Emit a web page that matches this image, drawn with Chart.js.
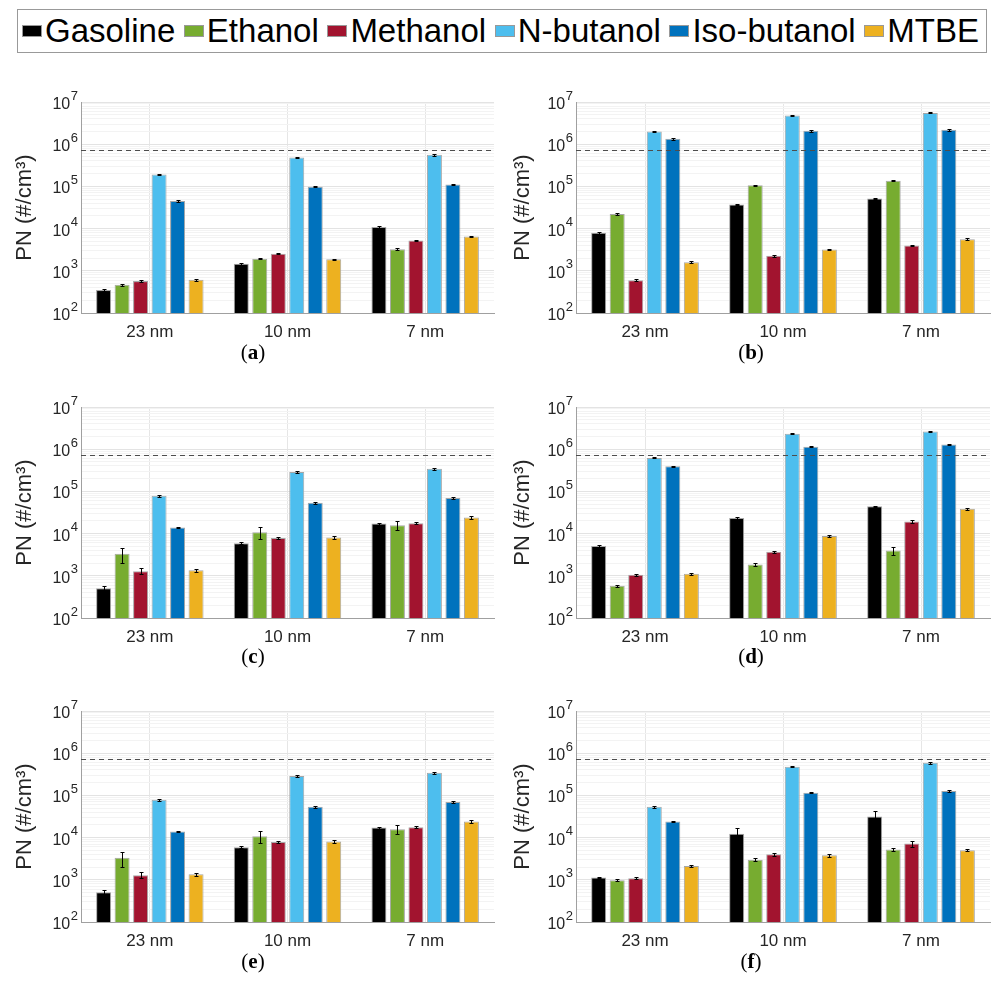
<!DOCTYPE html>
<html>
<head>
<meta charset="utf-8">
<script src="https://cdn.jsdelivr.net/npm/chart.js@4.4.0/dist/chart.umd.min.js"></script>
<style>
  body { margin: 0; width: 998px; height: 992px; background: #fff; position: relative; overflow: hidden;
         font-family: "Liberation Sans", Arial, sans-serif; }
  #legend { position: absolute; left: 17px; top: 9px; width: 970px; height: 44px; border: 1px solid #999;
            box-sizing: border-box; display: flex; justify-content: space-between; align-items: center;
            padding: 0 7px 0 4px; font-size: 33px; color: #000; }
  .item { display: flex; align-items: center; }
  .swatch { width: 20px; height: 12px; border: 1px solid #999; box-sizing: border-box; margin-right: 3px; }
  canvas { position: absolute; }
  .sublabel { position: absolute; width: 200px; text-align: center; font-family: "Liberation Serif", serif;
              font-size: 21px; color: #000; line-height: 20px; }
</style>
</head>
<body>
<div id="legend"></div>

<script>
const fuels = ['Gasoline', 'Ethanol', 'Methanol', 'N-butanol', 'Iso-butanol', 'MTBE'];
const sizes = ['23 nm', '10 nm', '7 nm'];
const fuelColors = ['#000000', '#77AC30', '#A2142F', '#4DBEEE', '#0072BD', '#EDB120'];
const pnLimit = 7.3e5;

// rows follow fuels, columns follow sizes
const valuesA = [
    [350, 1460, 10900],
    [470, 1920, 3250],
    [570, 2530, 5200],
    [191000, 483000, 559000],
    [45000, 98000, 111000],
    [610, 1890, 6500]
];
const errorsA = [
    [20, 60, 400],
    [25, 60, 150],
    [20, 80, 200],
    [5000, 15000, 20000],
    [1500, 3000, 4000],
    [25, 60, 250]
];

const valuesB = [
    [8000, 37000, 52000],
    [22200, 106000, 136000],
    [600, 2270, 3980],
    [2000000, 4770000, 5520000],
    [1340000, 2070000, 2190000],
    [1600, 3200, 5620]
];
const errorsB = [
    [400, 1500, 2000],
    [1000, 4000, 5000],
    [30, 100, 150],
    [50000, 100000, 150000],
    [50000, 80000, 80000],
    [80, 150, 250]
];

const valuesC = [
    [510, 5900, 17300],
    [3330, 10800, 15800],
    [1290, 7900, 17600],
    [79000, 288000, 345000],
    [13900, 53500, 70000],
    [1360, 8040, 24000]
];
const errorsC = [
    [60, 350, 1000],
    [1300, 3500, 3700],
    [200, 500, 1000],
    [4000, 15000, 15000],
    [500, 2500, 3000],
    [120, 500, 1500]
];

const valuesD = [
    [5090, 23500, 44300],
    [580, 1860, 3980],
    [1056, 3720, 19300],
    [622000, 2310000, 2620000],
    [395000, 1140000, 1290000],
    [1115, 8800, 38800]
];
const errorsD = [
    [250, 1000, 2000],
    [40, 150, 800],
    [50, 200, 1500],
    [15000, 50000, 80000],
    [10000, 30000, 40000],
    [60, 400, 2500]
];

const valuesE = [
    [510, 5900, 17300],
    [3330, 10800, 15800],
    [1290, 7900, 17600],
    [79000, 288000, 345000],
    [13900, 53500, 70000],
    [1360, 8040, 24000]
];
const errorsE = [
    [60, 350, 1000],
    [1300, 3500, 3700],
    [200, 500, 1000],
    [4000, 15000, 15000],
    [500, 2500, 3000],
    [120, 500, 1500]
];

const valuesF = [
    [1135, 12400, 31500],
    [982, 2980, 5190],
    [1095, 4030, 7200],
    [53800, 479000, 596000],
    [24100, 116000, 127000],
    [2110, 3810, 5010]
];
const errorsF = [
    [60, 4500, 12000],
    [50, 250, 400],
    [50, 400, 1200],
    [3000, 20000, 30000],
    [1000, 4000, 5000],
    [100, 250, 300]
];

// legend
const legend = document.getElementById('legend');
fuels.forEach((name, i) => {
    const item = document.createElement('div');
    item.className = 'item';
    item.innerHTML = `<span class="swatch" style="background:${fuelColors[i]}"></span><span>${name}</span>`;
    legend.appendChild(item);
});

const fontFamily = '"Liberation Sans", "DejaVu Sans", sans-serif';
Chart.defaults.font.family = fontFamily;
Chart.defaults.color = '#262626';

function isDecade(v) {
    const e = Math.log10(v);
    return Math.abs(e - Math.round(e)) < 1e-9;
}

// 10^n labels with a real raised exponent
const decadeLabels = {
    id: 'decadeLabels',
    afterDraw(chart) {
        const ctx = chart.ctx;
        const s = chart.scales.y;
        ctx.save();
        ctx.fillStyle = '#262626';
        ctx.textBaseline = 'middle';
        ctx.textAlign = 'right';
        s.ticks.forEach(t => {
            if (!isDecade(t.value)) return;
            const y = s.getPixelForValue(t.value);
            const exp = String(Math.round(Math.log10(t.value)));
            const xr = s.right - 3;
            ctx.font = '13px ' + fontFamily;
            const ew = ctx.measureText(exp).width;
            ctx.fillText(exp, xr, y - 6);
            ctx.font = '16px ' + fontFamily;
            ctx.fillText('10', xr - ew - 0.5, y + 2.5);
        });
        ctx.restore();
    }
};

const errorBars = {
    id: 'errorBars',
    afterDatasetsDraw(chart) {
        const ctx = chart.ctx;
        const yScale = chart.scales.y;
        ctx.save();
        ctx.strokeStyle = '#000';
        ctx.lineWidth = 1;
        chart.data.datasets.forEach((ds, i) => {
            chart.getDatasetMeta(i).data.forEach((bar, j) => {
                const v = ds.data[j];
                const e = ds.errors[j];
                const top = Math.round(yScale.getPixelForValue(v + e)) + 0.5;
                const bot = Math.round(yScale.getPixelForValue(Math.max(v - e, 1))) + 0.5;
                const x = Math.round(bar.x) + 0.5;
                ctx.beginPath();
                ctx.moveTo(x, top); ctx.lineTo(x, bot);
                ctx.moveTo(x - 2, top); ctx.lineTo(x + 2, top);
                ctx.moveTo(x - 2, bot); ctx.lineTo(x + 2, bot);
                ctx.stroke();
            });
        });
        ctx.restore();
    }
};

const limitLine = {
    id: 'limitLine',
    afterDatasetsDraw(chart) {
        const {ctx, chartArea} = chart;
        const y = Math.round(chart.scales.y.getPixelForValue(pnLimit)) + 0.5;
        ctx.save();
        ctx.strokeStyle = '#4d4d4d';
        ctx.lineWidth = 1.2;
        ctx.setLineDash([5, 4]);
        ctx.beginPath();
        ctx.moveTo(chartArea.left, y);
        ctx.lineTo(chartArea.right, y);
        ctx.stroke();
        ctx.restore();
    }
};

const panels = [
    {tag: 'a', values: valuesA, errors: errorsA, col: 0, top: 102},
    {tag: 'b', values: valuesB, errors: errorsB, col: 1, top: 102},
    {tag: 'c', values: valuesC, errors: errorsC, col: 0, top: 407},
    {tag: 'd', values: valuesD, errors: errorsD, col: 1, top: 407},
    {tag: 'e', values: valuesE, errors: errorsE, col: 0, top: 711},
    {tag: 'f', values: valuesF, errors: errorsF, col: 1, top: 711}
];
const labelY = {102: 342, 407: 646, 711: 951};

panels.forEach(p => {
    const canvas = document.createElement('canvas');
    const left = p.col === 0 ? 0 : 498;
    canvas.width = 500;
    canvas.height = 261;
    canvas.style.left = left + 'px';
    canvas.style.top = (p.top - 20) + 'px';
    document.body.appendChild(canvas);

    const label = document.createElement('div');
    label.className = 'sublabel';
    label.style.left = (p.col === 0 ? 153 : 651) + 'px';
    label.style.top = labelY[p.top] + 'px';
    label.innerHTML = `(<b>${p.tag}</b>)`;
    document.body.appendChild(label);

    const yWidth = p.col === 0 ? 81 : 78;
    const padRight = p.col === 0 ? 6 : 8;

    new Chart(canvas, {
        type: 'bar',
        data: {
            labels: sizes,
            datasets: fuels.map((name, i) => ({
                label: name,
                data: p.values[i],
                errors: p.errors[i],
                backgroundColor: fuelColors[i],
                borderColor: '#a6a6a6',
                borderWidth: 1,
                categoryPercentage: 0.806,
                barPercentage: 0.81
            }))
        },
        options: {
            responsive: false,
            animation: false,
            layout: {padding: {top: 20, left: 0, right: padRight, bottom: 0}},
            plugins: {legend: {display: false}, tooltip: {enabled: false}},
            scales: {
                x: {
                    grid: {offset: false, color: '#e6e6e6', drawTicks: false},
                    border: {color: '#a0a0a0'},
                    ticks: {font: {size: 17}, padding: 9, color: '#262626'},
                    afterFit: s => { s.height = 30; }
                },
                y: {
                    type: 'logarithmic',
                    min: 100,
                    max: 1e7,
                    grid: {
                        drawTicks: false,
                        color: c => (c.tick && isDecade(c.tick.value)) ? '#e3e3e3' : '#f3f3f3'
                    },
                    border: {color: '#a0a0a0'},
                    afterBuildTicks: s => {
                        const ticks = [];
                        for (let e = 2; e < 7; e++) {
                            for (let m = 1; m < 10; m++) ticks.push({value: m * Math.pow(10, e)});
                        }
                        ticks.push({value: 1e7});
                        s.ticks = ticks;
                    },
                    ticks: {display: false, autoSkip: false},
                    title: {
                        display: true,
                        text: 'PN (#/cm³)',
                        font: {size: 22},
                        color: '#262626',
                        padding: {top: 12, bottom: 0}
                    },
                    afterFit: s => { s.width = yWidth; }
                }
            }
        },
        plugins: [limitLine, errorBars, decadeLabels]
    });
});
</script>
</body>
</html>
